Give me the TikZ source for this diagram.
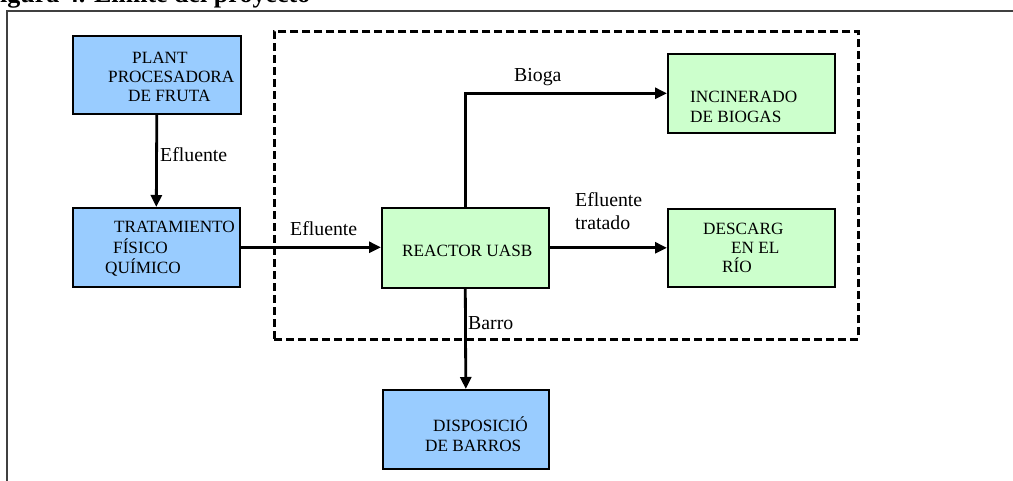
\documentclass[tikz,border=0pt]{standalone}
\usepackage{fontspec}
\setmainfont{Liberation Serif}
\usetikzlibrary{arrows.meta}
\definecolor{boxblue}{HTML}{99CCFF}
\definecolor{boxgreen}{HTML}{CCFFCC}
\tikzset{
  blk/.style={draw, line width=1.6pt, inner sep=0pt, anchor=north west},
  bluebox/.style={blk, fill=boxblue},
  greenbox/.style={blk, fill=boxgreen},
  boxtxt/.style={inner sep=0pt, anchor=base west, font=\fontsize{17.2}{19}\selectfont},
  lbl/.style={inner sep=0pt, anchor=base west, font=\fontsize{19.8}{22}\selectfont},
  arr/.style={line width=2.8pt, -{Triangle[length=12pt,width=11pt]}},
  frameline/.style={line width=1.2pt, draw=black!75},
  limit/.style={line width=2.6pt, dash pattern=on 8pt off 4pt}
}
\begin{document}
\begin{tikzpicture}[x=1pt,y=-1pt]
\useasboundingbox (0,0) rectangle (1013,481);
% title (cut at top)
\node[inner sep=0pt, anchor=base west, font=\fontsize{26}{30}\selectfont\bfseries] (title) at (0,3) {igura 4. Límite del proyecto};
% outer frame
\coordinate (fa) at (7,481);
\coordinate (fb) at (7,11);
\coordinate (fc) at (1013,11);
\draw[frameline] (fa) -- (fb) -- (fc);
% project limit
\node[limit, draw, inner sep=0pt, anchor=north west, minimum width=584pt, minimum height=308pt] (lim) at (273,30) {};
% boxes
\node[bluebox, minimum width=168pt, minimum height=78pt] (plant) at (72,35) {};
\node[bluebox, minimum width=167pt, minimum height=79pt] (trat) at (72,207) {};
\node[greenbox, minimum width=167pt, minimum height=80pt] (reac) at (381,207) {};
\node[greenbox, minimum width=167pt, minimum height=79pt] (inc) at (667,53) {};
\node[greenbox, minimum width=167pt, minimum height=78pt] (desc) at (667,208) {};
\node[bluebox, minimum width=166pt, minimum height=79pt] (disp) at (382,389) {};
% box texts
\node[boxtxt] (t1) at (132,64) {PLANT};
\node[boxtxt] (t2) at (108,83) {PROCESADORA};
\node[boxtxt] (t3) at (128,102) {DE FRUTA};
\node[boxtxt] (t4) at (114,233) {TRATAMIENTO};
\node[boxtxt] (t5) at (113,254) {FÍSICO};
\node[boxtxt] (t6) at (105,274) {QUÍMICO};
\node[boxtxt] (t7) at (402,257) {REACTOR UASB};
\node[boxtxt] (t8) at (690,103) {INCINERADO};
\node[boxtxt] (t9) at (690,123) {DE BIOGAS};
\node[boxtxt] (t10) at (703,235) {DESCARG};
\node[boxtxt] (t11) at (731,254) {EN EL};
\node[boxtxt] (t12) at (722,273) {RÍO};
\node[boxtxt] (t13) at (433,431) {DISPOSICIÓ};
\node[boxtxt] (t14) at (425,451) {DE BARROS};
% connectors
\draw[arr] (plant.south) -- (trat.north);
\draw[arr] (trat.east) -- (trat.east -| reac.west);
\draw[arr] (reac.north) |- (inc.west);
\draw[arr] (reac.east) -- (reac.east -| desc.west);
\draw[arr] (reac.south) -- (disp.north);
% labels
\node[lbl] (l1) at (160,162) {Efluente};
\node[lbl] (l2) at (290,236) {Efluente};
\node[lbl] (l3) at (514,82) {Bioga};
\node[lbl] (l4) at (575,207) {Efluente};
\node[lbl] (l5) at (575,230) {tratado};
\node[lbl] (l6) at (468,330) {Barro};
\end{tikzpicture}
\end{document}
